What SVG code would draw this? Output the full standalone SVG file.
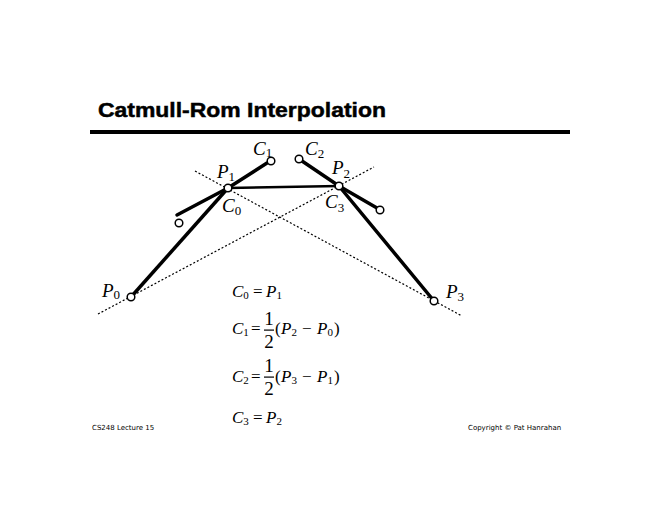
<svg xmlns="http://www.w3.org/2000/svg" width="660" height="510" viewBox="0 0 660 510">
<style>
.title{font-family:"Liberation Sans",Arial,sans-serif;font-weight:bold;font-size:21px;fill:#000;stroke:#000;stroke-width:0.5}
.lbl{font-family:"Liberation Serif","Times New Roman",serif;font-style:italic;font-size:19px;fill:#000}
.sub{font-style:normal;font-size:13px}
.eq{font-family:"Liberation Serif","Times New Roman",serif;font-style:italic;font-size:17px;fill:#000}
.esub{font-style:normal;font-size:11px}
.up{font-style:normal}
.frac{font-family:"Liberation Serif","Times New Roman",serif;font-size:19px;fill:#000;text-anchor:middle}
.foot{font-family:"DejaVu Sans",sans-serif;font-size:7px;fill:#000}
.thick{stroke:#000;stroke-width:3.5;fill:none;stroke-linecap:round}
.dot{stroke:#000;stroke-width:1.2;stroke-dasharray:2 2;fill:none}
.pt{fill:#fff;stroke:#000;stroke-width:1.5}
</style>
<rect width="660" height="510" fill="#fff"/>
<g id="header">
<text class="title" x="98" y="117" textLength="288" lengthAdjust="spacingAndGlyphs">Catmull-Rom Interpolation</text>
<rect x="90" y="130" width="480" height="4" fill="#000"/>
</g>
<g id="connectors">
<line class="dot" x1="195" y1="171" x2="462" y2="316"/>
<line class="dot" x1="98" y1="314" x2="374" y2="167"/>
<line class="thick" x1="228" y1="188" x2="131" y2="297"/>
<line class="thick" x1="339" y1="186" x2="434" y2="301"/>
<line class="thick" x1="228" y1="188" x2="267" y2="163"/>
<line class="thick" x1="228" y1="188" x2="177" y2="215"/>
<line class="thick" x1="302" y1="161" x2="339" y2="186"/>
<line class="thick" x1="339" y1="186" x2="377" y2="208"/>
<line stroke="#000" stroke-width="2.5" x1="228" y1="188" x2="339" y2="186"/>
</g>
<g id="P0"><circle class="pt" cx="131" cy="297" r="3.8"/><text class="lbl" x="102" y="297">P<tspan class="sub" dy="2">0</tspan></text></g>
<g id="P1"><circle class="pt" cx="228" cy="188" r="3.8"/><text class="lbl" x="217" y="178">P<tspan class="sub" dy="3">1</tspan></text></g>
<g id="C0"><text class="lbl" x="222" y="212">C<tspan class="sub" dy="3">0</tspan></text></g>
<g id="C1"><circle class="pt" cx="271" cy="161" r="3.8"/><text class="lbl" x="253" y="155">C<tspan class="sub" dy="2">1</tspan></text></g>
<g id="Cleft"><circle class="pt" cx="179" cy="223" r="3.8"/></g>
<g id="C2"><circle class="pt" cx="299" cy="159" r="3.8"/><text class="lbl" x="305" y="155">C<tspan class="sub" dy="3">2</tspan></text></g>
<g id="P2"><circle class="pt" cx="339" cy="186" r="3.8"/><text class="lbl" x="332" y="174">P<tspan class="sub" dy="4">2</tspan></text></g>
<g id="C3"><text class="lbl" x="325" y="208">C<tspan class="sub" dy="4">3</tspan></text></g>
<g id="Cright"><circle class="pt" cx="380" cy="210" r="3.8"/></g>
<g id="P3"><circle class="pt" cx="434" cy="301" r="3.8"/><text class="lbl" x="446" y="298">P<tspan class="sub" dy="3">3</tspan></text></g>
<g id="equations">
<text class="eq" x="232" y="297">C<tspan class="esub" dy="2">0</tspan><tspan class="up" dy="-2" x="253">=</tspan><tspan x="266">P</tspan><tspan class="esub" dy="2">1</tspan></text>
<text class="eq" x="232" y="334">C<tspan class="esub" dy="2">1</tspan><tspan class="up" dy="-2" x="251">=</tspan><tspan class="up" x="275">(</tspan><tspan x="281">P</tspan><tspan class="esub" dy="2">2</tspan><tspan class="up" dy="-2" x="302">−</tspan><tspan x="317">P</tspan><tspan class="esub" dy="2">0</tspan><tspan class="up" dy="-2" x="334">)</tspan></text>
<text class="frac" x="269" y="325">1</text><rect x="264" y="329.5" width="10" height="1.2" fill="#000"/><text class="frac" x="269" y="348">2</text>
<text class="eq" x="232" y="382">C<tspan class="esub" dy="2">2</tspan><tspan class="up" dy="-2" x="251">=</tspan><tspan class="up" x="275">(</tspan><tspan x="281">P</tspan><tspan class="esub" dy="2">3</tspan><tspan class="up" dy="-2" x="302">−</tspan><tspan x="317">P</tspan><tspan class="esub" dy="2">1</tspan><tspan class="up" dy="-2" x="334">)</tspan></text>
<text class="frac" x="269" y="372">1</text><rect x="264" y="376.5" width="10" height="1.2" fill="#000"/><text class="frac" x="269" y="395">2</text>
<text class="eq" x="232" y="423">C<tspan class="esub" dy="2">3</tspan><tspan class="up" dy="-2" x="253">=</tspan><tspan x="266">P</tspan><tspan class="esub" dy="2">2</tspan></text>
</g>
<g id="footer">
<text class="foot" x="92" y="430">CS248 Lecture 15</text>
<text class="foot" x="468" y="430">Copyright © Pat Hanrahan</text>
</g>
</svg>
